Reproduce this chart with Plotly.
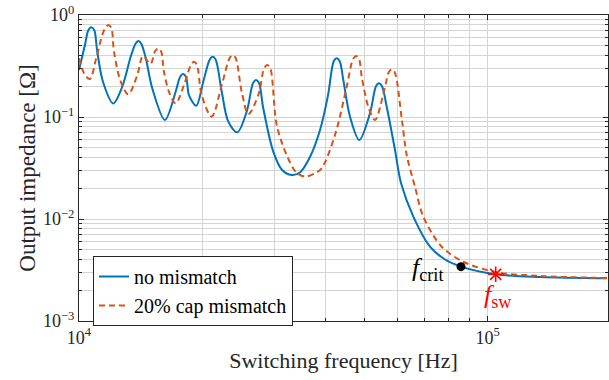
import math
import plotly.graph_objects as go

# ---- data ----
freq_blue = [1.000e4, 1.034e4, 1.054e4, 1.072e4, 1.090e4, 1.107e4, 1.145e4, 1.213e4, 1.276e4,
             1.338e4, 1.374e4, 1.397e4, 1.421e4, 1.457e4, 1.511e4, 1.623e4, 1.724e4, 1.767e4,
             1.797e4, 1.828e4, 1.858e4, 1.936e4, 2.014e4, 2.088e4, 2.124e4, 2.160e4, 2.235e4,
             2.319e4, 2.440e4, 2.572e4, 2.666e4, 2.711e4, 2.757e4, 2.824e4, 2.988e4, 3.140e4,
             3.314e4, 3.473e4, 3.674e4, 3.888e4, 4.068e4, 4.200e4, 4.271e4, 4.344e4, 4.433e4,
             4.604e4, 4.851e4, 5.152e4, 5.329e4, 5.420e4, 5.512e4, 5.661e4, 5.932e4, 6.136e4,
             6.577e4, 7.225e4, 7.864e4, 8.603e4, 1.046e5, 1.343e5, 1.958e5]
z_blue = [0.289, 0.508, 0.709, 0.758, 0.709, 0.454, 0.2205, 0.136, 0.198,
          0.390, 0.520, 0.556, 0.520, 0.376, 0.191, 0.0935, 0.177, 0.247,
          0.264, 0.247, 0.164, 0.129, 0.222, 0.365, 0.390, 0.365, 0.177,
          0.090, 0.0708, 0.1127, 0.2155, 0.2305, 0.2155, 0.1217, 0.0457, 0.0302,
          0.0270, 0.0286, 0.0405, 0.0746, 0.164, 0.352, 0.376, 0.352, 0.2305,
          0.1007, 0.0595, 0.1087, 0.200, 0.2138, 0.200, 0.1262, 0.0475, 0.02254,
          0.01054, 0.00535, 0.00401, 0.00341, 0.00287, 0.00270, 0.00262]

freq_orange = [1.000e4, 1.034e4, 1.064e4, 1.099e4, 1.140e4, 1.160e4, 1.180e4, 1.200e4, 1.218e4,
               1.265e4, 1.320e4, 1.389e4, 1.434e4, 1.496e4, 1.535e4, 1.561e4, 1.588e4, 1.614e4,
               1.660e4, 1.724e4, 1.807e4, 1.879e4, 1.911e4, 1.943e4, 1.996e4, 2.112e4, 2.235e4,
               2.337e4, 2.377e4, 2.417e4, 2.501e4, 2.596e4, 2.746e4, 2.840e4, 2.888e4, 2.937e4,
               3.046e4, 3.222e4, 3.396e4, 3.573e4, 3.779e4, 3.925e4, 4.230e4, 4.519e4, 4.683e4,
               4.763e4, 4.844e4, 4.918e4, 5.104e4, 5.300e4, 5.608e4, 5.727e4, 5.824e4, 5.923e4,
               6.160e4, 6.336e4, 6.638e4, 6.957e4, 7.718e4, 8.714e4, 1.046e5, 1.343e5, 1.958e5]
z_orange = [0.376, 0.258, 0.236, 0.362, 0.637, 0.746, 0.798, 0.746, 0.4366,
            0.222, 0.167, 0.258, 0.396, 0.331, 0.441, 0.4716, 0.441, 0.278,
            0.177, 0.136, 0.206, 0.325, 0.348, 0.325, 0.164, 0.1007, 0.206,
            0.379, 0.4055, 0.379, 0.177, 0.107, 0.164, 0.3026, 0.3236, 0.3026,
            0.0835, 0.0424, 0.0289, 0.0260, 0.0281, 0.0314, 0.0666, 0.198, 0.370,
            0.396, 0.370, 0.248, 0.126, 0.0935, 0.198, 0.2745, 0.2936, 0.2745,
            0.0971, 0.0424, 0.02074, 0.01054, 0.00535, 0.00381, 0.00302, 0.00276, 0.00264]

f_crit = [8.603e4]
z_crit = [0.00341]
f_sw = [1.046e5]
z_sw = [0.00287]

series_names = ["no mismatch", "20% cap mismatch"]

x_major = [1e4, 1e5]
x_major_text = ["10<sup>4</sup>", "10<sup>5</sup>"]
x_minor = [2e4, 3e4, 4e4, 5e4, 6e4, 7e4, 8e4, 9e4]
y_major = [1e-3, 1e-2, 1e-1, 1e0]
y_major_text = ["10<sup>−3</sup>", "10<sup>−2</sup>", "10<sup>−1</sup>", "10<sup>0</sup>"]
y_minor = [m * d for d in [1e-3, 1e-2, 1e-1] for m in range(2, 10)]

FONT = "Liberation Serif"
BLUE = "#0072BD"
ORANGE = "#D95319"
AXC = "#262626"
GRID = "#d4d4d4"

fig = go.Figure()
fig.add_trace(go.Scatter(x=freq_blue, y=z_blue, mode="lines", name=series_names[0],
                         line=dict(color=BLUE, width=2, shape="spline", smoothing=0.9)))
fig.add_trace(go.Scatter(x=freq_orange, y=z_orange, mode="lines", name=series_names[1],
                         line=dict(color=ORANGE, width=2, dash="6px,4px", shape="spline", smoothing=0.9)))
fig.add_trace(go.Scatter(x=f_crit, y=z_crit, mode="markers", showlegend=False,
                         marker=dict(color="black", size=9, symbol="circle")))
fig.add_trace(go.Scatter(x=f_sw, y=z_sw, mode="markers", showlegend=False,
                         marker=dict(color="red", size=13, symbol="asterisk",
                                     line=dict(color="red", width=1.6))))

# annotations on log axes take log10 coordinates
fig.add_annotation(x=math.log10(f_crit[0]), y=math.log10(z_crit[0]), xref="x", yref="y",
                   text="<i>f</i><sub>crit</sub>",
                   showarrow=False, xanchor="right", yanchor="middle", xshift=-16, yshift=-2,
                   font=dict(family=FONT, size=26, color="black"))
fig.add_annotation(x=math.log10(f_sw[0]), y=math.log10(z_sw[0]), xref="x", yref="y",
                   text="<i>f</i><sub>sw</sub>",
                   showarrow=False, xanchor="center", yanchor="middle", xshift=2, yshift=-22,
                   font=dict(family=FONT, size=26, color="red"))

xrange_hi = 4 + (608 - 79) / 408.7

fig.update_layout(
    width=609, height=380,
    margin=dict(l=79, r=1, t=15, b=59),
    paper_bgcolor="white", plot_bgcolor="white",
    font=dict(family=FONT, size=18, color=AXC),
    showlegend=True,
    legend=dict(x=0.0265, y=0.2124, xanchor="left", yanchor="top",
                bgcolor="white", bordercolor=AXC, borderwidth=1,
                font=dict(family=FONT, size=20, color="black"),
                tracegroupgap=0, itemwidth=30),
    xaxis=dict(type="log", range=[4, xrange_hi],
               tickmode="array", tickvals=x_major, ticktext=x_major_text,
               ticks="inside", ticklen=5, tickcolor=AXC,
               showline=True, linecolor=AXC, linewidth=1, mirror="ticks",
               showgrid=True, gridcolor=GRID, gridwidth=1, zeroline=False,
               minor=dict(tickvals=x_minor, showgrid=True, gridcolor=GRID, gridwidth=1,
                          ticks="inside", ticklen=3, tickcolor=AXC),
               tickfont=dict(family=FONT, size=18, color=AXC),
               title=dict(text="Switching frequency [Hz]", font=dict(family=FONT, size=22, color=AXC),
                          standoff=6)),
    yaxis=dict(type="log", range=[-3, 0],
               tickmode="array", tickvals=y_major, ticktext=y_major_text,
               ticks="inside", ticklen=5, tickcolor=AXC,
               showline=True, linecolor=AXC, linewidth=1, mirror="ticks",
               showgrid=True, gridcolor=GRID, gridwidth=1, zeroline=False,
               minor=dict(tickvals=y_minor, showgrid=True, gridcolor=GRID, gridwidth=1,
                          ticks="inside", ticklen=3, tickcolor=AXC),
               tickfont=dict(family=FONT, size=18, color=AXC),
               title=dict(text="Output impedance [Ω]", font=dict(family=FONT, size=23, color=AXC),
                          standoff=0)),
)

fig.write_html("out.html")
